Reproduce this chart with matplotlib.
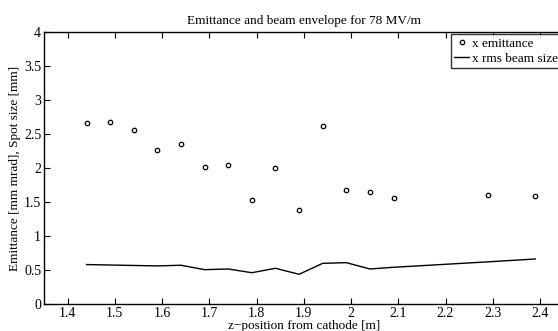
import matplotlib
matplotlib.use("Agg")
import matplotlib.pyplot as plt
from matplotlib.ticker import FixedLocator, FuncFormatter

plt.rcParams['font.family'] = ['Liberation Serif', 'DejaVu Serif']
plt.rcParams['mathtext.fontset'] = 'stix'

z_emit = [1.44, 1.49, 1.54, 1.59, 1.64, 1.69, 1.74, 1.79, 1.84, 1.89, 1.94, 1.99, 2.04, 2.09, 2.29, 2.39]
emittance = [2.66, 2.68, 2.56, 2.27, 2.35, 2.01, 2.04, 1.53, 2.00, 1.38, 2.62, 1.68, 1.65, 1.56, 1.61, 1.59]
z_size = [1.44, 1.59, 1.64, 1.69, 1.74, 1.79, 1.84, 1.89, 1.94, 1.99, 2.04, 2.09, 2.29, 2.39]
rms_size = [0.58, 0.56, 0.57, 0.505, 0.515, 0.46, 0.525, 0.437, 0.598, 0.608, 0.515, 0.54, 0.62, 0.662]
x_ticks = [1.4, 1.5, 1.6, 1.7, 1.8, 1.9, 2.0, 2.1, 2.2, 2.3, 2.4]
y_ticks = [0, 0.5, 1, 1.5, 2, 2.5, 3, 3.5, 4]

fig = plt.figure(figsize=(5.58, 3.31), dpi=100)
W, H = 558, 331
ax = fig.add_axes([44 / W, 1 - 304 / H, (563.6 - 44) / W, (304 - 32) / H])

ax.plot(z_emit, emittance, linestyle='none', marker='o', markersize=3.2,
        markerfacecolor='none', markeredgecolor='black', markeredgewidth=0.9,
        label='x emittance')
ax.plot(z_size, rms_size, color='black', linewidth=1.0, label='x rms beam size')

ax.set_xlim(1.35, 2.45)
ax.set_ylim(0, 4)
ax.xaxis.set_major_locator(FixedLocator(x_ticks))
ax.yaxis.set_major_locator(FixedLocator(y_ticks))
fmt = FuncFormatter(lambda v, p: ('%g' % round(v, 2)))
ax.xaxis.set_major_formatter(fmt)
ax.yaxis.set_major_formatter(fmt)
ax.tick_params(direction='in', top=True, right=True, labelsize=10, length=4, width=0.8, pad=2)
for s in ax.spines.values():
    s.set_linewidth(1.0)

ax.set_title('Emittance and beam envelope for 78 MV/m', fontsize=9.5, pad=6)
ax.set_xlabel('z\u2212position from cathode [m]', fontsize=9.5, labelpad=0)
ax.set_ylabel('Emittance [mm mrad], Spot size [mm]', fontsize=9.5, labelpad=2)

leg = ax.legend(loc='upper left', bbox_to_anchor=(451 / W, 1 - 34 / H),
                bbox_transform=fig.transFigure, fontsize=9.5, frameon=True,
                fancybox=False, edgecolor='black', borderpad=0.25, labelspacing=0.25,
                handlelength=1.15, handletextpad=0.2, borderaxespad=0)
leg.get_frame().set_linewidth(1.0)

fig.savefig('out.png', dpi=100)
